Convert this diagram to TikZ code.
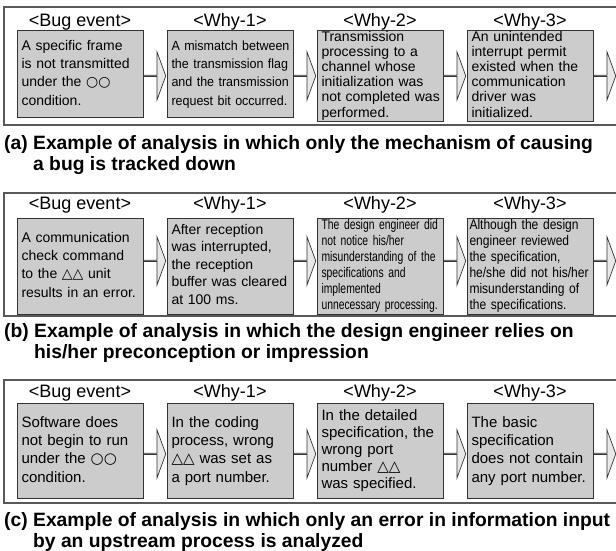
\documentclass[tikz,border=0pt]{standalone}
\usepackage{fontspec}
\setmainfont{Liberation Sans}
\newfontfamily\narrowfont[FakeStretch=0.94]{Liberation Sans}
\newfontfamily\condfont[FakeStretch=0.74]{Liberation Sans}
\newfontfamily\semifont[FakeStretch=0.86]{Liberation Sans}
\newfontfamily\symfont{DejaVu Sans}
\usetikzlibrary{positioning,shapes.arrows}

\newcommand{\circs}{{\symfont ○○}}
\newcommand{\tris}{{\symfont △△}}
\newcommand{\textlines}[1]{\noindent\begin{tabular}{@{}l@{}}#1\end{tabular}}

\tikzset{
  frame/.style={draw=black!65, line width=1.2pt},
  head/.style={font=\fontsize{18}{18}\selectfont, anchor=base, inner sep=0pt},
  box/.style={draw=black!80, fill=black!20, line width=0.8pt, anchor=north,
    text width=117pt, inner xsep=4.5pt, inner ysep=0pt, align=left},
  arr/.style={single arrow, draw=black!80, fill=black!9, line width=0.7pt,
    minimum height=22pt, minimum width=48pt, single arrow head extend=13pt,
    single arrow tip angle=140, inner sep=0pt},
  captext/.style={anchor=base west, align=left, inner sep=0pt,
    font=\bfseries\fontsize{19.3}{21}\selectfont}
}

\begin{document}
\begin{tikzpicture}[x=1pt, y=-1pt]
\useasboundingbox (0,0) rectangle (616,551);
\clip (0,0) rectangle (616,551);

% (a)
\draw[frame] (4,7) rectangle (630,125);
\node[head] (hbug-a) at (80,27) {<Bug event>};
\node[head] (hwhy1-a) at (230,27) {<Why-1>};
\node[head] (hwhy2-a) at (380,27) {<Why-2>};
\node[head] (hwhy3-a) at (530,27) {<Why-3>};
\node[box, minimum height=87pt, font=\fontsize{14}{18.3}\selectfont] (bug-a) at (80,30)
  {\textlines{A specific frame\\is not transmitted\\under the \circs\\condition.}};
\node[box, minimum height=87pt, font=\narrowfont\fontsize{13.3}{18.3}\selectfont] (why1-a) at (230,30)
  {\textlines{A mismatch between\\the transmission flag\\and the transmission\\request bit occurred.}};
\node[box, minimum height=87pt, font=\fontsize{14}{15.2}\selectfont] (why2-a) at (380,30)
  {\textlines{Transmission\\processing to a\\channel whose\\initialization was\\not completed was\\performed.}};
\node[box, minimum height=87pt, font=\fontsize{14}{15.2}\selectfont] (why3-a) at (530,30)
  {\textlines{An unintended\\interrupt permit\\existed when the\\communication\\driver was\\initialized.}};
\node[arr, right=0pt of bug-a, yshift=-2pt] (arr1-a) {};
\node[arr, anchor=west] (arr2-a) at (why1-a.east |- arr1-a) {};
\node[arr, anchor=west] (arr3-a) at (why2-a.east |- arr1-a) {};
\node[arr, anchor=west] (arr4-a) at (why3-a.east |- arr1-a) {};
\node[captext] (cap-a) at (4,170)
  {(a) Example of analysis in which only the mechanism of causing\\\phantom{(a) }a bug is tracked down};

% (b)
\draw[frame] (4,193) rectangle (630,316);
\node[head] (hbug-b) at (80,209) {<Bug event>};
\node[head] (hwhy1-b) at (230,209) {<Why-1>};
\node[head] (hwhy2-b) at (380,209) {<Why-2>};
\node[head] (hwhy3-b) at (530,209) {<Why-3>};
\node[box, minimum height=96pt, font=\fontsize{14}{18.3}\selectfont] (bug-b) at (80,217.5)
  {\textlines{A communication\\check command\\to the \tris{} unit\\results in an error.}};
\node[box, minimum height=96pt, font=\fontsize{14}{17.5}\selectfont] (why1-b) at (230,217.5)
  {\textlines{After reception\\was interrupted,\\the reception\\buffer was cleared\\at 100 ms.}};
\node[box, minimum height=96pt, font=\condfont\fontsize{14}{16}\selectfont] (why2-b) at (380,217.5)
  {\textlines{The design engineer did\\not notice his/her\\misunderstanding of the\\specifications and\\implemented\\unnecessary processing.}};
\node[box, minimum height=96pt, text width=121pt, inner xsep=2.5pt,
  font=\semifont\fontsize{14}{16}\selectfont] (why3-b) at (530,217.5)
  {\textlines{Although the design\\engineer reviewed\\the specification,\\he/she did not his/her\\misunderstanding of\\the specifications.}};
\node[arr, right=0pt of bug-b, yshift=5pt] (arr1-b) {};
\node[arr, anchor=west] (arr2-b) at (why1-b.east |- arr1-b) {};
\node[arr, anchor=west] (arr3-b) at (why2-b.east |- arr1-b) {};
\node[arr, anchor=west] (arr4-b) at (why3-b.east |- arr1-b) {};
\node[captext] (cap-b) at (4,358)
  {(b) Example of analysis in which the design engineer relies on\\\phantom{(b) }his/her preconception or impression};

% (c)
\draw[frame] (4,380) rectangle (630,503);
\node[head] (hbug-c) at (80,397) {<Bug event>};
\node[head] (hwhy1-c) at (230,397) {<Why-1>};
\node[head] (hwhy2-c) at (380,397) {<Why-2>};
\node[head] (hwhy3-c) at (530,397) {<Why-3>};
\node[box, minimum height=95pt, font=\fontsize{15}{18.3}\selectfont] (bug-c) at (80,403)
  {\textlines{Software does\\not begin to run\\under the \circs\\condition.}};
\node[box, minimum height=95pt, font=\fontsize{15}{18.3}\selectfont] (why1-c) at (230,403)
  {\textlines{In the coding\\process, wrong\\\tris{} was set as\\a port number.}};
\node[box, minimum height=95pt, font=\fontsize{15}{17}\selectfont] (why2-c) at (380,403)
  {\textlines{In the detailed\\specification, the\\wrong port\\number \tris\\was specified.}};
\node[box, minimum height=95pt, font=\fontsize{15}{18.3}\selectfont] (why3-c) at (530,403)
  {\textlines{The basic\\specification\\does not contain\\any port number.}};
\node[arr, right=0pt of bug-c, yshift=-3pt] (arr1-c) {};
\node[arr, anchor=west] (arr2-c) at (why1-c.east |- arr1-c) {};
\node[arr, anchor=west] (arr3-c) at (why2-c.east |- arr1-c) {};
\node[arr, anchor=west] (arr4-c) at (why3-c.east |- arr1-c) {};
\node[captext] (cap-c) at (4,547)
  {(c) Example of analysis in which only an error in information input\\\phantom{(c) }by an upstream process is analyzed};
\end{tikzpicture}
\end{document}
